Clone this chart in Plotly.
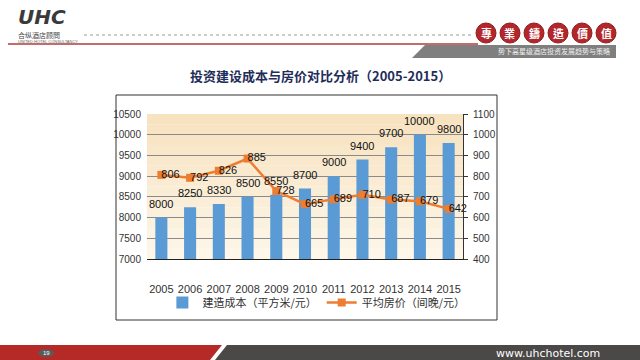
import plotly.graph_objects as go

years = ["2005", "2006", "2007", "2008", "2009", "2010", "2011", "2012", "2013", "2014", "2015"]
build_cost = [8000, 8250, 8330, 8500, 8550, 8700, 9000, 9400, 9700, 10000, 9800]
avg_price = [806, 792, 826, 885, 728, 665, 689, 710, 687, 679, 642]
left_ticks = [7000, 7500, 8000, 8500, 9000, 9500, 10000, 10500]
right_ticks = [400, 500, 600, 700, 800, 900, 1000, 1100]

W, H = 640, 360
L, R, T, B = 147, 463, 114, 259
PW, PH = R - L, B - T


def px(x):
    return (x - L) / PW


def py(y):
    return (B - y) / PH


NARROW = "Liberation Sans Narrow, Arial Narrow, Liberation Sans, sans-serif"
CJK = "Noto Sans CJK SC, sans-serif"

fig = go.Figure()
fig.add_trace(go.Bar(
    x=years, y=build_cost, name="建造成本（平方米/元）",
    marker=dict(color="#5B9BD5", line=dict(width=0)), width=0.42,
    yaxis="y",
))
fig.add_trace(go.Scatter(
    x=years, y=avg_price, name="平均房价（间晚/元）", mode="lines+markers",
    line=dict(color="#ED7D31", width=2.5),
    marker=dict(symbol="square", size=8, color="#ED7D31"),
    yaxis="y2",
))
fig.add_trace(go.Scatter(
    x=years, y=avg_price, mode="text", text=[str(v) for v in avg_price],
    textposition="middle right", showlegend=False, hoverinfo="skip", cliponaxis=False,
    textfont=dict(family=NARROW, size=11, color="#111111"),
    yaxis="y2",
))

annotations = []
for i, v in enumerate(build_cost):
    annotations.append(dict(x=i, y=v, xref="x", yref="y", text=str(v),
                            showarrow=False, yshift=14, xanchor="center", yanchor="middle",
                            font=dict(family=NARROW, size=11, color="#111111")))


def ann(x, y, text, size, color, family, xanchor="center"):
    annotations.append(dict(x=px(x), y=py(y), xref="paper", yref="paper", text=text,
                            showarrow=False, xanchor=xanchor, yanchor="middle",
                            font=dict(family=family, size=size, color=color)))


# Header texts
ann(16, 17.5, "<b><i>UHC</i></b>", 20, "#3a3a3a", "DejaVu Sans, sans-serif", "left")
ann(16, 35, "合纵酒店顾問", 7, "#444444", CJK, "left")
ann(16, 42, "UNITED HOTEL CONSULTANCY", 4, "#666666", "Liberation Sans, sans-serif", "left")
ann(612, 51, "势下高星级酒店投资发展趋势与策略", 7, "#f0f0f0", CJK, "right")
ann(320, 76, "<b>投资建设成本与房价对比分析（2005-2015）</b>", 13, "#1F2D5A", CJK)
ann(548, 353, "www.uhchotel.com", 11, "#ffffff", "DejaVu Sans, sans-serif")
ann(46, 353, "19", 6, "#ffffff", "Liberation Sans, sans-serif")

stamp_chars = ["專", "業", "鑄", "造", "價", "值"]
stamp_x = [486, 510, 534, 558, 582, 606]

shapes = []
# chart box
shapes.append(dict(type="rect", xref="paper", yref="paper", x0=px(116), x1=px(497), y0=py(95), y1=py(320),
                   line=dict(color="#333333", width=1), fillcolor="rgba(0,0,0,0)", layer="below"))
# plot area gradient
n = 14
for i in range(n):
    t = i / (n - 1)
    r = int(248 + (253 - 248) * t)
    g = int(227 + (246 - 227) * t)
    b = int(192 + (233 - 192) * t)
    shapes.append(dict(type="rect", xref="paper", yref="paper", x0=0, x1=1,
                       y0=1 - (i + 1) / n, y1=1 - i / n, line=dict(width=0),
                       fillcolor=f"rgb({r},{g},{b})", layer="below"))
# header
shapes.append(dict(type="line", xref="paper", yref="paper", x0=px(84), x1=px(472), y0=py(35), y1=py(35),
                   line=dict(color="#9a9a9a", width=1, dash="dot")))
shapes.append(dict(type="line", xref="paper", yref="paper", x0=px(8), x1=px(478), y0=py(44), y1=py(44),
                   line=dict(color="#B03A3A", width=1.5)))
shapes.append(dict(type="path", xref="paper", yref="paper",
                   path=f"M {px(425)},{py(45)} L {px(616)},{py(45)} L {px(616)},{py(58)} L {px(412)},{py(58)} Z",
                   fillcolor="#7f7f7f", line=dict(width=0)))
for cx, ch in zip(stamp_x, stamp_chars):
    shapes.append(dict(type="circle", xref="paper", yref="paper", x0=px(cx - 10), x1=px(cx + 10),
                       y0=py(43), y1=py(23), fillcolor="#B3272C", line=dict(color="#8e1d20", width=1)))
    ann(cx, 33, f"<b>{ch}</b>", 11, "#ffffff", "Noto Sans CJK TC, sans-serif")
# footer
shapes.append(dict(type="path", xref="paper", yref="paper",
                   path=f"M {px(0)},{py(345)} L {px(222)},{py(345)} L {px(210)},{py(360)} L {px(0)},{py(360)} Z",
                   fillcolor="#B52A26", line=dict(width=0)))
shapes.append(dict(type="path", xref="paper", yref="paper",
                   path=f"M {px(227)},{py(345)} L {px(640)},{py(345)} L {px(640)},{py(360)} L {px(215)},{py(360)} Z",
                   fillcolor="#4B4848", line=dict(width=0)))
shapes.append(dict(type="circle", xref="paper", yref="paper", x0=px(38), x1=px(54), y0=py(349), y1=py(357),
                   fillcolor="#5a5a5a", line=dict(width=0)))

fig.update_layout(
    width=W, height=H,
    margin=dict(l=L, r=W - R, t=T, b=H - B, pad=0, autoexpand=False),
    paper_bgcolor="#ffffff", plot_bgcolor="rgba(0,0,0,0)",
    showlegend=True,
    legend=dict(orientation="h", x=0.536, xanchor="center", y=-0.30, yanchor="middle",
                font=dict(family=CJK, size=11, color="#333333"), bgcolor="rgba(0,0,0,0)",
                itemwidth=30, tracegroupgap=0),
    xaxis=dict(type="category", range=[-0.5, len(years) - 0.5], showgrid=False, showline=True,
               linecolor="#222222", linewidth=1, ticks="", ticklabelstandoff=20, tickangle=0,
               tickfont=dict(family=NARROW, size=11, color="#333333"), fixedrange=True),
    yaxis=dict(range=[7000, 10500], tickvals=left_ticks, ticktext=[str(v) for v in left_ticks],
               showgrid=True, gridcolor="#8a8a8a", gridwidth=1,
               zeroline=False, showline=False, ticks="", ticklabelstandoff=5,
               tickfont=dict(family=NARROW, size=10, color="#333333")),
    yaxis2=dict(range=[400, 1100], tickvals=right_ticks, ticktext=[str(v) for v in right_ticks],
                overlaying="y", side="right", showgrid=False,
                zeroline=False, showline=True, linecolor="#333333", linewidth=1, ticks="outside", ticklen=4,
                tickcolor="#333333", ticklabelstandoff=3,
                tickfont=dict(family=NARROW, size=10, color="#333333")),
    shapes=shapes, annotations=annotations,
)

fig.write_html("out.html", config={"displayModeBar": False},
               post_script="document.body.style.margin='0';document.body.style.overflow='hidden';")
